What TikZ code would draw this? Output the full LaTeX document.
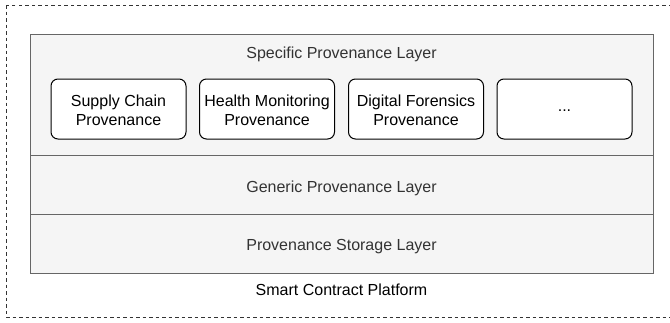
\documentclass[tikz,border=0pt]{standalone}
\usepackage{fontspec}
\setmainfont{Liberation Sans}
\definecolor{layerfill}{HTML}{F5F5F5}
\definecolor{layerline}{HTML}{666666}
\definecolor{layertext}{HTML}{333333}
\tikzset{
  layerbox/.style={draw=layerline, fill=layerfill, line width=1pt, inner sep=0pt},
  provbox/.style={draw=black, fill=white, line width=1pt, rounded corners=7pt, minimum width=135pt, minimum height=60pt, inner sep=0pt, align=center, font=\fontsize{16}{19}\selectfont},
  layerlabel/.style={text=layertext, font=\fontsize{16}{19}\selectfont, inner sep=0pt, anchor=base},
  platform/.style={draw=black!80, dash pattern=on 3.5pt off 3pt, line width=1pt},
}
\begin{document}
\begin{tikzpicture}[x=1pt,y=-1pt]
\useasboundingbox (0,0) rectangle (670,322);
% outer platform
\draw[platform] (6,5) rectangle (690,317);
% layers
\draw[layerbox] (30,34) rectangle (653,155);
\draw[layerbox] (30,155) rectangle (653,214);
\draw[layerbox] (30,214) rectangle (653,273);
\node[layerlabel] (specific) at (341.5,58) {Specific Provenance Layer};
\node[layerlabel] (generic) at (341.5,192.5) {Generic Provenance Layer};
\node[layerlabel] (storage) at (341.5,250) {Provenance Storage Layer};
\node[layerlabel, text=black] (platformlabel) at (341.5,295.5) {Smart Contract Platform};
% provenance boxes
\node[provbox] (supply) at (118.5,109) {};
\node[provbox] (health) at (267,109) {};
\node[provbox] (digital) at (416,109) {};
\node[provbox] (more) at (564.5,109) {};
\node[provbox, draw=none, fill=none] at (118.5,110.5) {Supply Chain\\Provenance};
\node[provbox, draw=none, fill=none] at (267,110.5) {Health Monitoring\\Provenance};
\node[provbox, draw=none, fill=none] at (416,110.5) {Digital Forensics\\Provenance};
\node[provbox, draw=none, fill=none] at (564.5,110.5) {...};
\end{tikzpicture}
\end{document}
